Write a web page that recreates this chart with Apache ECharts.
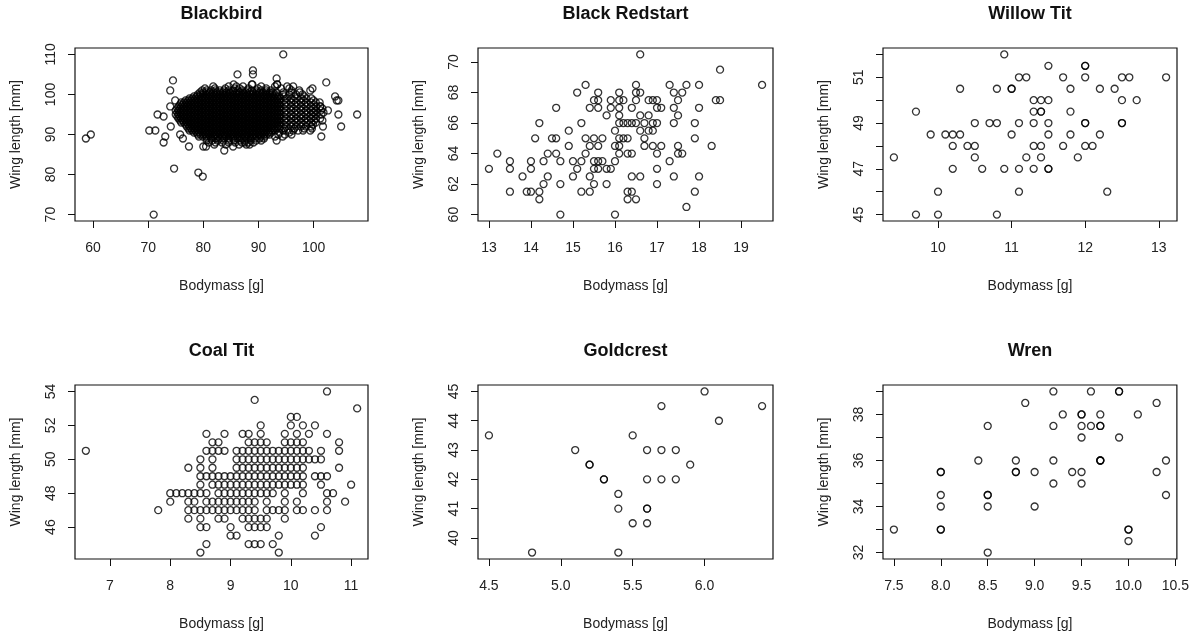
<!DOCTYPE html>
<html><head><meta charset="utf-8">
<script src="https://cdn.jsdelivr.net/npm/echarts@6/dist/echarts.min.js"></script>
<style>html,body{margin:0;padding:0;background:#fff}#c{width:1192px;height:636px}</style>
</head><body><div id="c"></div>
<script>
// ---------------- DATA ----------------
const panelTitles = ['Blackbird', 'Black Redstart', 'Willow Tit', 'Coal Tit', 'Goldcrest', 'Wren'];
const xAxisTitle = 'Bodymass [g]';
const yAxisTitle = 'Wing length [mm]';

// Blackbird: isolated points [bodymass, wing]
const blackbirdPoints = [[58.7,89],[59.6,90],[70.2,91],[71.3,91],[71.7,95],[72.8,94.5],[72.8,88],[73.1,89.5],[71,70],[74.7,81.5],[79.1,80.5],[79.9,79.5],[74.5,103.5],[74,101],[74,97],[74.1,92],[74.9,98.5],[75.8,90],[76.3,89],[77.4,87],[80,87],[80.5,87],[83.8,86],[85.4,87],[86.2,105],[89,106],[89,105],[88.9,102.5],[94.5,110],[93.3,104],[93.4,102.5],[93.3,88.5],[87.8,87.5],[87.5,88],[102.3,103],[103.9,99.5],[104.2,98.5],[104.5,98.5],[102.6,96],[104.5,95],[107.9,95],[105,92],[101.4,89.5],[101.7,92],[101.6,93.5],[101.2,97],[99.8,101.5],[99.4,91],[99.7,91.5],[99.9,95.5]];
// Blackbird dense cloud: rows of [wing, bodymass values]
const blackbirdRows = [
[102.5,[85.5,88.8,93.4]],
[102,[81.8,84.6,86.0,87.2,90.5,93.0,95.2,96.3]],
[101.5,[80.3,82.1,84.0,85.7,86.6,88.2,89.9,91.4,94.1,95.6]],
[101,[79.8,80.6,81.4,82.2,83.0,83.8,84.6,85.4,86.3,87.1,88.0,88.8,89.7,90.5,91.4,92.3,96.0,97.4,99.4]],
[100.5,[79.4,80.0,80.6,81.2,81.8,82.4,83.0,83.6,84.2,84.8,85.4,86.0,86.6,87.2,87.8,88.4,89.0,89.6,90.2,90.8,91.4,92.0,92.6,93.3,94.5,96.0,97.5]],
[100,[79,79.5,80,80.5,81,81.5,82,82.5,83,83.5,84,84.5,85,85.5,86,86.5,87,87.5,88,88.5,89,89.5,90,90.5,91,91.5,92,92.5,93,94.5,95.6,96.8,98]],
[99.5,[78.3,78.8,79.3,79.8,80.3,80.8,81.3,81.8,82.3,82.8,83.3,83.8,84.3,84.8,85.3,85.8,86.3,86.8,87.3,87.8,88.3,88.8,89.3,89.8,90.3,90.8,91.3,91.8,92.3,92.8,93.3,93.8,94.7,96.5,98.3]],
[99,[77.5,78,78.5,79,79.5,80,80.5,81,81.5,82,82.5,83,83.5,84,84.5,85,85.5,86,86.5,87,87.5,88,88.5,89,89.5,90,90.5,91,91.5,92,92.5,93,93.5,94,95.1,96,96.9,97.8,98.7,99.6]],
[98.5,[76.8,77.3,77.8,78.3,78.8,79.3,79.8,80.3,80.8,81.3,81.8,82.3,82.8,83.3,83.8,84.3,84.8,85.3,85.8,86.3,86.8,87.3,87.8,88.3,88.8,89.3,89.8,90.3,90.8,91.3,91.8,92.3,92.8,93.3,93.8,94.6,96.4,98.2,100]],
[98,[76,76.5,77,77.5,78,78.5,79,79.5,80,80.5,81,81.5,82,82.5,83,83.5,84,84.5,85,85.5,86,86.5,87,87.5,88,88.5,89,89.5,90,90.5,91,91.5,92,92.5,93,93.5,94,95,95.9,96.8,97.7,98.6,99.5,100.4,101.1]],
[97.5,[75.8,76.3,76.8,77.3,77.8,78.3,78.8,79.3,79.8,80.3,80.8,81.3,81.8,82.3,82.8,83.3,83.8,84.3,84.8,85.3,85.8,86.3,86.8,87.3,87.8,88.3,88.8,89.3,89.8,90.3,90.8,91.3,91.8,92.3,92.8,93.3,93.8,94.7,96.5,98.3,100.1]],
[97,[75.5,76,76.5,77,77.5,78,78.5,79,79.5,80,80.5,81,81.5,82,82.5,83,83.5,84,84.5,85,85.5,86,86.5,87,87.5,88,88.5,89,89.5,90,90.5,91,91.5,92,92.5,93,93.5,94,95.1,96,96.9,97.8,98.7,99.6,100.5,101.2]],
[96.5,[75.3,75.8,76.3,76.8,77.3,77.8,78.3,78.8,79.3,79.8,80.3,80.8,81.3,81.8,82.3,82.8,83.3,83.8,84.3,84.8,85.3,85.8,86.3,86.8,87.3,87.8,88.3,88.8,89.3,89.8,90.3,90.8,91.3,91.8,92.3,92.8,93.3,93.8,94.6,96.4,98.2,100,101.6]],
[96,[75,75.5,76,76.5,77,77.5,78,78.5,79,79.5,80,80.5,81,81.5,82,82.5,83,83.5,84,84.5,85,85.5,86,86.5,87,87.5,88,88.5,89,89.5,90,90.5,91,91.5,92,92.5,93,93.5,94,95,95.9,96.8,97.7,98.6,99.5,100.4,101.3]],
[95.5,[75.3,75.8,76.3,76.8,77.3,77.8,78.3,78.8,79.3,79.8,80.3,80.8,81.3,81.8,82.3,82.8,83.3,83.8,84.3,84.8,85.3,85.8,86.3,86.8,87.3,87.8,88.3,88.8,89.3,89.8,90.3,90.8,91.3,91.8,92.3,92.8,93.3,93.8,94.7,96.5,98.3,100.1,101.8]],
[95,[75,75.5,76,76.5,77,77.5,78,78.5,79,79.5,80,80.5,81,81.5,82,82.5,83,83.5,84,84.5,85,85.5,86,86.5,87,87.5,88,88.5,89,89.5,90,90.5,91,91.5,92,92.5,93,93.5,94,95.1,96,96.9,97.8,98.7,99.6,100.5,101.4]],
[94.5,[75.3,75.8,76.3,76.8,77.3,77.8,78.3,78.8,79.3,79.8,80.3,80.8,81.3,81.8,82.3,82.8,83.3,83.8,84.3,84.8,85.3,85.8,86.3,86.8,87.3,87.8,88.3,88.8,89.3,89.8,90.3,90.8,91.3,91.8,92.3,92.8,93.3,93.8,94.6,96.4,98.2,100]],
[94,[75.5,76,76.5,77,77.5,78,78.5,79,79.5,80,80.5,81,81.5,82,82.5,83,83.5,84,84.5,85,85.5,86,86.5,87,87.5,88,88.5,89,89.5,90,90.5,91,91.5,92,92.5,93,93.5,94,95,95.9,96.8,97.7,98.6,99.5,100.4,101.2]],
[93.5,[75.8,76.3,76.8,77.3,77.8,78.3,78.8,79.3,79.8,80.3,80.8,81.3,81.8,82.3,82.8,83.3,83.8,84.3,84.8,85.3,85.8,86.3,86.8,87.3,87.8,88.3,88.8,89.3,89.8,90.3,90.8,91.3,91.8,92.3,92.8,93.3,93.8,94.7,96.5,98.3,100.1]],
[93,[76,76.5,77,77.5,78,78.5,79,79.5,80,80.5,81,81.5,82,82.5,83,83.5,84,84.5,85,85.5,86,86.5,87,87.5,88,88.5,89,89.5,90,90.5,91,91.5,92,92.5,93,93.5,94,95.1,96,96.9,97.8,98.7,99.6,100.4]],
[92.5,[76.8,77.3,77.8,78.3,78.8,79.3,79.8,80.3,80.8,81.3,81.8,82.3,82.8,83.3,83.8,84.3,84.8,85.3,85.8,86.3,86.8,87.3,87.8,88.3,88.8,89.3,89.8,90.3,90.8,91.3,91.8,92.3,92.8,93.3,93.8,94.6,96.4,98.2,99.9]],
[92,[77,77.5,78,78.5,79,79.5,80,80.5,81,81.5,82,82.5,83,83.5,84,84.5,85,85.5,86,86.5,87,87.5,88,88.5,89,89.5,90,90.5,91,91.5,92,92.5,93,93.5,94,95,95.9,96.8,97.7,98.6,99.6]],
[91.5,[77.3,77.8,78.3,78.8,79.3,79.8,80.3,80.8,81.3,81.8,82.3,82.8,83.3,83.8,84.3,84.8,85.3,85.8,86.3,86.8,87.3,87.8,88.3,88.8,89.3,89.8,90.3,90.8,91.3,91.8,92.3,92.8,93.3,93.8,94.7,96.5,98.3]],
[91,[77.5,78,78.5,79,79.5,80,80.5,81,81.5,82,82.5,83,83.5,84,84.5,85,85.5,86,86.5,87,87.5,88,88.5,89,89.5,90,90.5,91,91.5,92,92.5,93,94.5,95.4,96.3,97.2,98.1]],
[90.5,[78.3,78.8,79.3,79.8,80.3,80.8,81.3,81.8,82.3,82.8,83.3,83.8,84.3,84.8,85.3,85.8,86.3,86.8,87.3,87.8,88.3,88.8,89.3,89.8,90.3,90.8,91.3,91.8,92.3,93.8,95.6]],
[90,[79,79.5,80,80.5,81,81.5,82,82.5,83,83.5,84,84.5,85,85.5,86,86.5,87,87.5,88,88.5,89,89.5,90,90.5,91,91.5,92,93.6,94.8,96]],
[89.5,[79.2,79.9,80.6,81.3,82,82.7,83.4,84.1,84.8,85.5,86.2,86.9,87.6,88.3,89,89.7,90.4,91.1,93,94.4]],
[89,[80.6,81.4,82.2,83,83.8,84.6,85.4,86.2,87,87.8,88.6,89.4,90.2,91]],
[88.5,[80.6,81.6,82.6,83.6,84.6,85.6,86.6,87.6,88.6,89.6,90.5]],
[88,[81,82.2,83.4,84.6,85.8,87,88.2,89.1]],
[87.5,[82,84.1,86.5,88.4]]
];

const blackRedstart = [[13.0,63.0],[13.2,64.0],[13.5,63.5],[13.5,63.0],[13.5,61.5],[13.8,62.5],[13.9,61.5],[14.0,61.5],[14.0,63.5],[14.0,63.0],[14.1,65.0],[14.2,61.5],[14.2,61.0],[14.2,66.0],[14.3,62.0],[14.3,63.5],[14.4,62.5],[14.4,64.0],[14.5,65.0],[14.6,65.0],[14.6,67.0],[14.6,64.0],[14.7,63.5],[14.7,62.0],[14.7,60.0],[14.9,65.5],[14.9,64.5],[15.0,63.5],[15.0,62.5],[15.1,68.0],[15.1,63.0],[15.2,66.0],[15.2,63.5],[15.2,61.5],[15.3,68.5],[15.3,65.0],[15.3,64.0],[15.4,67.0],[15.4,64.5],[15.4,62.5],[15.4,61.5],[15.5,67.5],[15.5,65.0],[15.5,63.5],[15.5,63.0],[15.5,62.0],[15.6,68.0],[15.6,67.5],[15.6,67.0],[15.6,64.5],[15.6,63.5],[15.6,63.0],[15.7,65.0],[15.7,63.5],[15.8,66.5],[15.8,63.0],[15.8,62.0],[15.9,63.0],[15.9,67.5],[15.9,67.0],[16.0,63.5],[16.0,64.5],[16.0,65.5],[16.0,60.0],[16.1,68.0],[16.1,67.5],[16.1,67.0],[16.1,66.5],[16.1,66.0],[16.1,64.5],[16.1,64.0],[16.1,65.0],[16.2,67.5],[16.2,66.0],[16.2,65.0],[16.3,66.0],[16.3,65.0],[16.3,64.0],[16.3,61.5],[16.3,61.0],[16.4,67.0],[16.4,66.0],[16.4,64.0],[16.4,62.5],[16.4,61.5],[16.5,68.5],[16.5,67.5],[16.5,68.0],[16.5,66.0],[16.5,61.0],[16.6,70.5],[16.6,68.0],[16.6,66.5],[16.6,65.5],[16.6,62.5],[16.7,66.0],[16.7,65.0],[16.7,64.5],[16.8,67.5],[16.8,66.5],[16.8,65.5],[16.9,67.5],[16.9,66.0],[16.9,65.5],[16.9,64.5],[17.0,67.0],[17.0,67.5],[17.0,66.0],[17.0,64.0],[17.0,63.0],[17.0,62.0],[17.1,67.0],[17.1,64.5],[17.3,68.5],[17.3,63.5],[17.4,68.0],[17.4,67.0],[17.4,66.0],[17.4,62.5],[17.5,67.5],[17.5,66.5],[17.5,64.5],[17.5,64.0],[17.6,68.0],[17.6,64.0],[17.7,68.5],[17.7,60.5],[17.9,66.0],[17.9,65.0],[17.9,61.5],[18.0,68.5],[18.0,67.0],[18.0,62.5],[18.3,64.5],[18.4,67.5],[18.5,67.5],[18.5,69.5],[19.5,68.5]];

const willowTit = [[9.4,47.5],[9.7,49.5],[9.7,45.0],[9.9,48.5],[10.0,46.0],[10.0,45.0],[10.1,48.5],[10.2,48.5],[10.2,48.0],[10.2,47.0],[10.3,50.5],[10.3,48.5],[10.4,48.0],[10.5,49.0],[10.5,48.0],[10.5,47.5],[10.6,47.0],[10.7,49.0],[10.8,50.5],[10.8,49.0],[10.8,45.0],[10.9,52.0],[10.9,47.0],[11.0,50.5],[11.0,50.5],[11.0,48.5],[11.1,51.0],[11.1,49.0],[11.1,47.0],[11.1,46.0],[11.2,51.0],[11.2,47.5],[11.3,50.0],[11.3,49.5],[11.3,49.0],[11.3,48.0],[11.3,47.0],[11.4,50.0],[11.4,49.5],[11.4,49.5],[11.4,48.0],[11.4,47.5],[11.5,51.5],[11.5,50.0],[11.5,49.0],[11.5,48.5],[11.5,47.0],[11.5,47.0],[11.7,51.0],[11.7,48.0],[11.8,50.5],[11.8,49.5],[11.8,48.5],[11.9,47.5],[12.0,51.5],[12.0,51.5],[12.0,51.0],[12.0,49.0],[12.0,49.0],[12.0,48.0],[12.1,48.0],[12.2,50.5],[12.2,48.5],[12.3,46.0],[12.4,50.5],[12.5,51.0],[12.5,50.0],[12.5,49.0],[12.5,49.0],[12.6,51.0],[12.7,50.0],[13.1,51.0]];

// Coal Tit: rows of [wing, bodymass values]
const coalTitRows = [
[54,[10.6]],
[53.5,[9.4]],
[53,[11.1]],
[52.5,[10.0,10.1]],
[52,[9.5,10.0,10.2,10.4]],
[51.5,[8.6,8.9,9.2,9.3,9.5,9.9,10.1,10.3,10.6]],
[51,[8.7,8.8,9.3,9.4,9.5,9.6,9.9,10.0,10.1,10.2,10.8]],
[50.5,[6.6,8.6,8.7,8.8,8.9,9.1,9.2,9.3,9.4,9.5,9.6,9.7,9.8,9.9,10.0,10.1,10.2,10.3,10.5,10.8]],
[50,[8.5,8.7,9.1,9.2,9.3,9.4,9.5,9.6,9.7,9.8,9.9,10.0,10.1,10.2,10.3,10.4,10.5]],
[49.5,[8.3,8.5,8.7,9.1,9.2,9.3,9.4,9.5,9.6,9.7,9.8,9.9,10.0,10.1,10.2,10.8]],
[49,[8.5,8.6,8.7,8.8,8.9,9.0,9.1,9.2,9.3,9.4,9.5,9.6,9.7,9.8,9.9,10.0,10.1,10.2,10.4,10.5,10.6]],
[48.5,[8.5,8.7,8.8,8.9,9.0,9.1,9.2,9.3,9.4,9.5,9.6,9.7,9.8,9.9,10.0,10.1,10.2,10.5,11.0]],
[48,[8.0,8.1,8.2,8.3,8.4,8.5,8.6,8.8,8.9,9.0,9.1,9.2,9.3,9.4,9.5,9.6,9.7,9.9,10.2,10.6,10.7]],
[47.5,[8.0,8.3,8.4,8.6,8.7,8.8,8.9,9.0,9.1,9.2,9.3,9.4,9.6,9.9,10.1,10.6,10.9]],
[47,[7.8,8.3,8.4,8.5,8.6,8.7,8.8,8.9,9.0,9.1,9.2,9.3,9.4,9.6,9.7,9.8,9.9,10.1,10.2,10.4,10.6]],
[46.5,[8.3,8.5,8.8,8.9,9.2,9.3,9.4,9.5,9.6,9.9]],
[46,[8.5,8.6,9.0,9.3,9.4,9.5,9.6,10.5]],
[45.5,[9.0,9.1,9.8,10.4]],
[45,[8.6,9.3,9.4,9.5,9.7]],
[44.5,[8.5,9.8]]
];

const goldcrest = [[4.5,43.5],[4.8,39.5],[5.1,43.0],[5.2,42.5],[5.2,42.5],[5.3,42.0],[5.3,42.0],[5.4,41.5],[5.4,41.0],[5.4,39.5],[5.5,43.5],[5.5,40.5],[5.6,43.0],[5.6,42.0],[5.6,41.0],[5.6,41.0],[5.6,40.5],[5.7,44.5],[5.7,43.0],[5.7,42.0],[5.8,43.0],[5.8,42.0],[5.9,42.5],[6.0,45.0],[6.1,44.0],[6.4,44.5]];

const wren = [[7.5,33.0],[8.0,35.5],[8.0,35.5],[8.0,34.5],[8.0,34.0],[8.0,33.0],[8.0,33.0],[8.4,36.0],[8.5,37.5],[8.5,34.5],[8.5,34.5],[8.5,34.0],[8.5,32.0],[8.8,36.0],[8.8,35.5],[8.8,35.5],[8.9,38.5],[9.0,35.5],[9.0,34.0],[9.2,39.0],[9.2,37.5],[9.2,36.0],[9.2,35.0],[9.3,38.0],[9.4,35.5],[9.5,38.0],[9.5,38.0],[9.5,37.5],[9.5,37.0],[9.5,35.5],[9.5,35.0],[9.6,39.0],[9.6,37.5],[9.7,38.0],[9.7,37.5],[9.7,37.5],[9.7,36.0],[9.7,36.0],[9.7,36.0],[9.9,39.0],[9.9,39.0],[9.9,37.0],[10.0,33.0],[10.0,33.0],[10.0,32.5],[10.1,38.0],[10.3,38.5],[10.3,35.5],[10.4,36.0],[10.4,34.5]];

// tick values
const blackbirdXTicks = [60,70,80,90,100], blackbirdYTicks = [70,80,90,100,110];
const redstartXTicks = [13,14,15,16,17,18,19], redstartYTicks = [60,62,64,66,68,70];
const willowXTicks = [10,11,12,13], willowYTicks = [45,46,47,48,49,50,51,52], willowYLabels = [45,47,49,51];
const coalXTicks = [7,8,9,10,11], coalYTicks = [46,48,50,52,54];
const goldXTicks = [4.5,5.0,5.5,6.0], goldYTicks = [40,41,42,43,44,45];
const wrenXTicks = [7.5,8.0,8.5,9.0,9.5,10.0,10.5], wrenYTicks = [32,33,34,35,36,37,38,39], wrenYLabels = [32,34,36,38];

// ---------------- BUILD ----------------
function fromRows(rows) { const out = []; rows.forEach(r => r[1].forEach(x => out.push([x, r[0]]))); return out; }
const blackbird = blackbirdPoints.concat(fromRows(blackbirdRows));
const coalTit = fromRows(coalTitRows);

const FONT = '"Liberation Sans", Arial, Helvetica, sans-serif';
const panels = [
  {data: blackbird, grid: {left: 75, top: 48, width: 293, height: 173}, xr: [56.73, 109.87], yr: [68.4, 111.6], xt: blackbirdXTicks, yt: blackbirdYTicks, yl: blackbirdYTicks, xd: 0},
  {data: blackRedstart, grid: {left: 478, top: 48, width: 295, height: 173}, xr: [12.74, 19.76], yr: [59.58, 70.92], xt: redstartXTicks, yt: redstartYTicks, yl: redstartYTicks, xd: 0},
  {data: willowTit, grid: {left: 883, top: 48, width: 294, height: 173}, xr: [9.252, 13.248], yr: [44.72, 52.28], xt: willowXTicks, yt: willowYTicks, yl: willowYLabels, xd: 0},
  {data: coalTit, grid: {left: 75, top: 385, width: 293, height: 174}, xr: [6.42, 11.28], yr: [44.12, 54.38], xt: coalXTicks, yt: coalYTicks, yl: coalYTicks, xd: 0},
  {data: goldcrest, grid: {left: 478, top: 385, width: 295, height: 174}, xr: [4.424, 6.476], yr: [39.28, 45.22], xt: goldXTicks, yt: goldYTicks, yl: goldYTicks, xd: 1},
  {data: wren, grid: {left: 883, top: 385, width: 294, height: 174}, xr: [7.384, 10.516], yr: [31.72, 39.28], xt: wrenXTicks, yt: wrenYTicks, yl: wrenYLabels, xd: 1}
];

const labelStyle = {fontSize: 14, color: '#222', fontFamily: FONT};
const option = {
  animation: false,
  backgroundColor: '#fff',
  grid: panels.map(p => Object.assign({show: true, borderColor: '#111', borderWidth: 1.2, backgroundColor: 'transparent'}, p.grid)),
  xAxis: panels.map((p, i) => ({
    type: 'value', gridIndex: i, min: p.xr[0], max: p.xr[1],
    axisLine: {show: false}, splitLine: {show: false},
    axisTick: {show: true, inside: false, length: 7, customValues: p.xt, lineStyle: {color: '#111', width: 1}},
    axisLabel: Object.assign({margin: 20, customValues: p.xt, formatter: v => p.xd ? v.toFixed(1) : String(v)}, labelStyle),
    name: xAxisTitle, nameLocation: 'middle', nameGap: 58, nameTextStyle: labelStyle
  })),
  yAxis: panels.map((p, i) => ({
    type: 'value', gridIndex: i, min: p.yr[0], max: p.yr[1],
    axisLine: {show: false}, splitLine: {show: false},
    axisTick: {show: true, inside: false, length: 7, customValues: p.yt, lineStyle: {color: '#111', width: 1}},
    axisLabel: Object.assign({margin: 17, rotate: 90, customValues: p.yl, formatter: v => String(v)}, labelStyle),
    name: yAxisTitle, nameLocation: 'middle', nameGap: 52, nameTextStyle: labelStyle
  })),
  series: panels.map((p, i) => ({
    type: 'scatter', xAxisIndex: i, yAxisIndex: i, data: p.data,
    symbol: 'circle', symbolSize: 7, silent: true, large: false,
    itemStyle: {color: 'rgba(0,0,0,0)', borderColor: '#000', borderWidth: 1.3},
    emphasis: {disabled: true}
  })),
  graphic: panels.map((p, i) => ({
    type: 'text', x: p.grid.left + p.grid.width / 2, y: i < 3 ? 14 : 351,
    style: {text: panelTitles[i], font: 'bold 18px ' + FONT, fill: '#111', textAlign: 'center', textVerticalAlign: 'middle'}
  }))
};
const chart = echarts.init(document.getElementById('c'), null, {renderer: 'canvas'});
chart.setOption(option);
</script></body></html>
